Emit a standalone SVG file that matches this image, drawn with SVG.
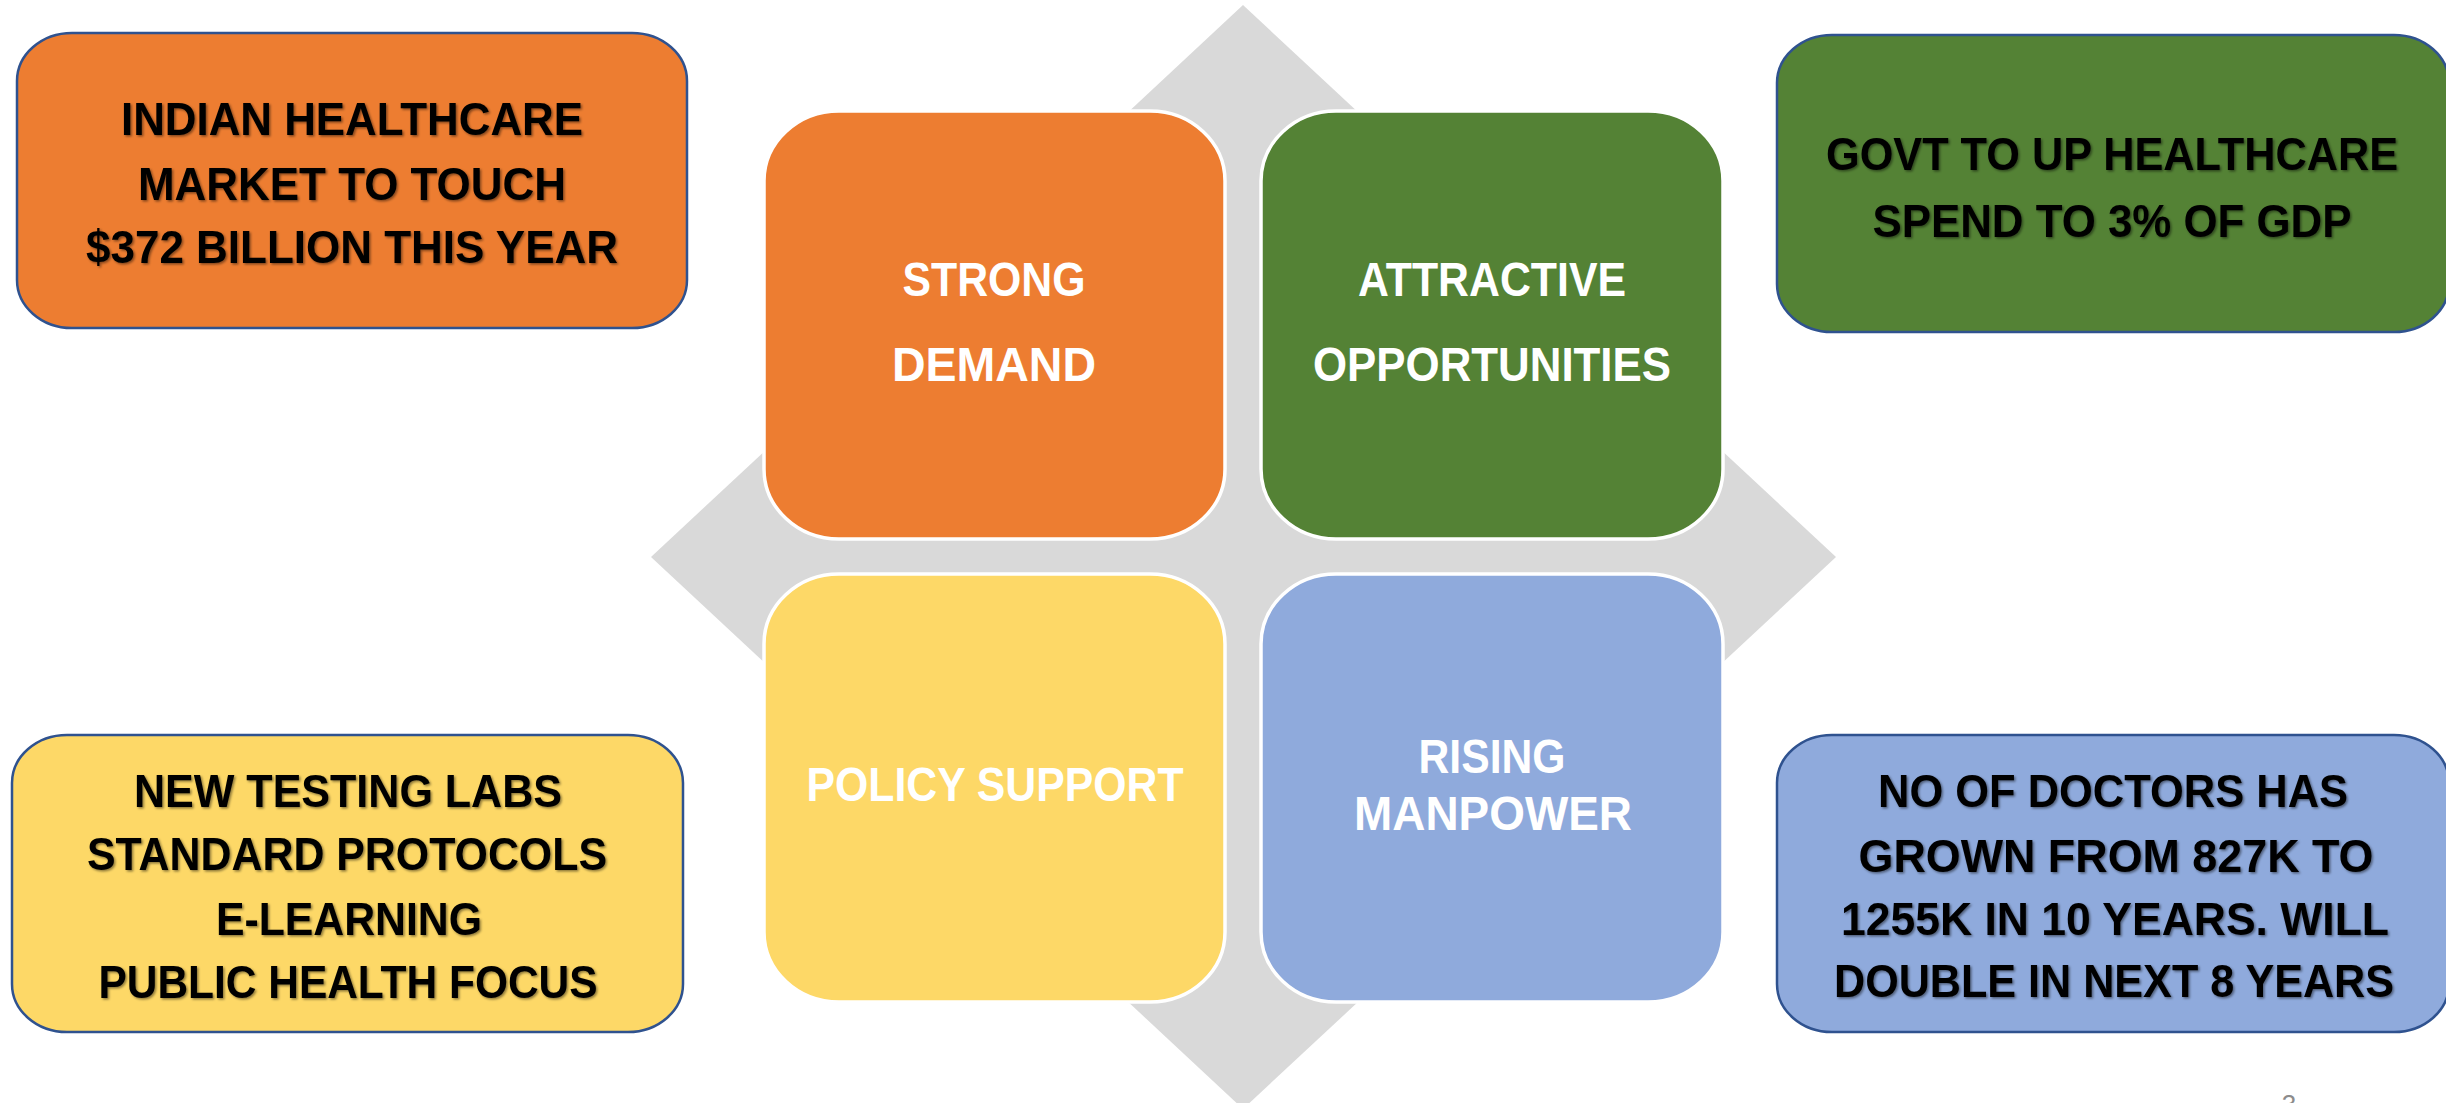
<svg xmlns="http://www.w3.org/2000/svg" width="2446" height="1103" viewBox="0 0 2446 1103">
<defs>
<filter id="sh" x="-5%" y="-20%" width="110%" height="140%">
<feDropShadow dx="1.5" dy="1.5" stdDeviation="1.2" flood-color="#000" flood-opacity="0.45"/>
</filter>
<style>
.side{stroke:#2F528F;stroke-width:2.5}
.core{stroke:#FFFFFF;stroke-width:3.5}
.st{font-family:"Liberation Sans",Arial,sans-serif;font-weight:bold;font-size:46px;fill:#000;text-anchor:middle}
.ct{font-family:"Liberation Sans",Arial,sans-serif;font-weight:bold;font-size:48px;fill:#FFFFFF;text-anchor:middle}
</style>
</defs>
<rect width="2446" height="1103" fill="#FFFFFF"/>
<g id="backdrop">
<polygon points="1243,5 1836,557 1243,1109 651,557" fill="#D9D9D9"/>
</g>
<g id="connectors"></g>
<g id="strong-demand">
<rect class="core" x="764" y="111" width="461" height="428" rx="75" ry="70" fill="#ED7D31"/>
<text class="ct" x="994" y="296" textLength="183" lengthAdjust="spacingAndGlyphs">STRONG</text>
<text class="ct" x="994" y="381" textLength="204" lengthAdjust="spacingAndGlyphs">DEMAND</text>
</g>
<g id="attractive-opportunities">
<rect class="core" x="1261" y="111" width="462" height="428" rx="75" ry="70" fill="#548235"/>
<text class="ct" x="1492" y="296" textLength="268" lengthAdjust="spacingAndGlyphs">ATTRACTIVE</text>
<text class="ct" x="1492" y="381" textLength="358" lengthAdjust="spacingAndGlyphs">OPPORTUNITIES</text>
</g>
<g id="policy-support">
<rect class="core" x="764" y="574" width="461" height="428" rx="75" ry="70" fill="#FDD867"/>
<text class="ct" x="995" y="801" textLength="377" lengthAdjust="spacingAndGlyphs">POLICY SUPPORT</text>
</g>
<g id="rising-manpower">
<rect class="core" x="1261" y="574" width="462" height="428" rx="75" ry="70" fill="#8FAADC"/>
<text class="ct" x="1492" y="773" textLength="147" lengthAdjust="spacingAndGlyphs">RISING</text>
<text class="ct" x="1493" y="830" textLength="278" lengthAdjust="spacingAndGlyphs">MANPOWER</text>
</g>
<g id="market-size">
<rect class="side" x="17" y="33" width="670" height="295" rx="55" ry="48" fill="#ED7D31"/>
<g filter="url(#sh)">
<text class="st" x="352" y="135" textLength="462" lengthAdjust="spacingAndGlyphs">INDIAN HEALTHCARE</text>
<text class="st" x="352" y="200" textLength="428" lengthAdjust="spacingAndGlyphs">MARKET TO TOUCH</text>
<text class="st" x="352" y="263" textLength="532" lengthAdjust="spacingAndGlyphs">$372 BILLION THIS YEAR</text>
</g>
</g>
<g id="govt-spend">
<rect class="side" x="1777" y="35" width="672" height="297" rx="55" ry="48" fill="#548235"/>
<g filter="url(#sh)">
<text class="st" x="2112" y="170" textLength="572" lengthAdjust="spacingAndGlyphs">GOVT TO UP HEALTHCARE</text>
<text class="st" x="2112" y="237" textLength="479" lengthAdjust="spacingAndGlyphs">SPEND TO 3% OF GDP</text>
</g>
</g>
<g id="policy-details">
<rect class="side" x="12" y="735" width="671" height="297" rx="55" ry="48" fill="#FDD867"/>
<g filter="url(#sh)">
<text class="st" x="348" y="807" textLength="428" lengthAdjust="spacingAndGlyphs">NEW TESTING LABS</text>
<text class="st" x="347" y="870" textLength="520" lengthAdjust="spacingAndGlyphs">STANDARD PROTOCOLS</text>
<text class="st" x="349" y="935" textLength="266" lengthAdjust="spacingAndGlyphs">E-LEARNING</text>
<text class="st" x="348" y="998" textLength="499" lengthAdjust="spacingAndGlyphs">PUBLIC HEALTH FOCUS</text>
</g>
</g>
<g id="doctors">
<rect class="side" x="1777" y="735" width="672" height="297" rx="55" ry="48" fill="#8FAADC"/>
<g filter="url(#sh)">
<text class="st" x="2113" y="807" textLength="470" lengthAdjust="spacingAndGlyphs">NO OF DOCTORS HAS</text>
<text class="st" x="2116" y="872" textLength="515" lengthAdjust="spacingAndGlyphs">GROWN FROM 827K TO</text>
<text class="st" x="2115" y="935" textLength="548" lengthAdjust="spacingAndGlyphs">1255K IN 10 YEARS. WILL</text>
<text class="st" x="2114" y="997" textLength="560" lengthAdjust="spacingAndGlyphs">DOUBLE IN NEXT 8 YEARS</text>
</g>
</g>
<text x="2289" y="1113" font-family="Liberation Sans,Arial,sans-serif" font-size="26" fill="#8C8C8C" text-anchor="middle">3</text>
</svg>
